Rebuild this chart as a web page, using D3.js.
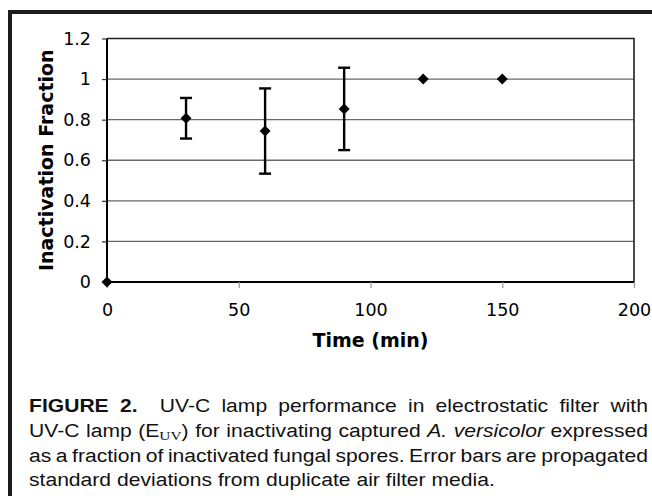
<!DOCTYPE html>
<html lang="en">
<head>
<meta charset="UTF-8">
<title>Figure 2</title>
<script src="https://d3js.org/d3.v7.min.js"></script>
<style>
  body { margin: 0; background: #fff; }
  svg { display: block; }
</style>
</head>
<body>
<div id="my_dataviz"></div>
<script>

    // data
    const times = [0, 30, 60, 90, 120, 150];
    const fractions = [0, 0.807, 0.744, 0.853, 1, 1];
    const errors = [0, 0.100, 0.210, 0.203, 0, 0];
    const xTicks = [0, 50, 100, 150, 200];
    const yTicks = [0, 0.2, 0.4, 0.6, 0.8, 1, 1.2];

    const caption = [
      "<b>FIGURE</b> <b>2.</b>  UV-C lamp performance in electrostatic filter with",
      "UV-C lamp (E<sub>UV</sub>) for inactivating captured <i>A.</i> <i>versicolor</i> expressed",
      "as a fraction of inactivated fungal spores. Error bars are propagated",
      "standard deviations from duplicate air filter media."
    ];

    const W = 652, H = 496;
    const plot = {left: 107, right: 634, top: 38.5, bottom: 282};
    const axisFont = "DejaVu Sans, Verdana, sans-serif";

    const svg = d3.select("#my_dataviz")
      .append("svg")
        .attr("width", W)
        .attr("height", H);

    // frame bars top and left
    svg.append("rect").attr("x", 8).attr("y", 10).attr("width", W - 8).attr("height", 4).attr("fill", "#1c1c1c");
    svg.append("rect").attr("x", 8).attr("y", 10).attr("width", 4).attr("height", H - 10).attr("fill", "#1c1c1c");

    const x = d3.scaleLinear().domain([0, 200]).range([plot.left, plot.right]);
    const y = d3.scaleLinear().domain([0, 1.2]).range([plot.bottom, plot.top]);

    // gridlines
    svg.append("g")
      .selectAll("line")
      .data(yTicks.filter(d => d > 0 && d < 1.2))
      .join("line")
        .attr("x1", plot.left).attr("x2", plot.right)
        .attr("y1", d => y(d)).attr("y2", d => y(d))
        .attr("stroke", "#6a6a6a")
        .attr("stroke-width", 1.3);

    // plot box: top and right thinner
    svg.append("path")
      .attr("d", `M${plot.left},${plot.top}H${plot.right}V${plot.bottom}`)
      .attr("fill", "none")
      .attr("stroke", "#222")
      .attr("stroke-width", 1.6);

    // y axis
    const yAxis = svg.append("g")
      .attr("transform", `translate(${plot.left},0)`)
      .call(d3.axisLeft(y).tickValues(yTicks).tickFormat(d => String(d)).tickSize(5).tickPadding(11));
    yAxis.select(".domain").attr("stroke", "#000").attr("stroke-width", 2).attr("d", `M0,${plot.top}V${plot.bottom}`);
    yAxis.selectAll(".tick line").attr("stroke", "#333").attr("stroke-width", 1.2);
    yAxis.selectAll(".tick text")
      .attr("font-family", axisFont)
      .attr("font-size", 17.5)
      .attr("fill", "#000");

    // x axis
    const xAxis = svg.append("g")
      .attr("transform", `translate(0,${plot.bottom})`)
      .call(d3.axisBottom(x).tickValues(xTicks).tickFormat(d => String(d)).tickSize(6).tickPadding(16));
    xAxis.select(".domain").attr("stroke", "#000").attr("stroke-width", 2).attr("d", `M${plot.left},0H${plot.right}`);
    xAxis.selectAll(".tick line").attr("stroke", "#999").attr("stroke-width", 1.2);
    xAxis.selectAll(".tick text")
      .attr("font-family", axisFont)
      .attr("font-size", 17.5)
      .attr("fill", "#000");

    // axis titles
    svg.append("text")
      .attr("x", (plot.left + plot.right) / 2)
      .attr("y", 347)
      .attr("text-anchor", "middle")
      .attr("font-family", axisFont)
      .attr("font-weight", "bold")
      .attr("font-size", 19)
      .text("Time (min)");

    svg.append("text")
      .attr("transform", `translate(53,${(plot.top + plot.bottom) / 2}) rotate(-90)`)
      .attr("text-anchor", "middle")
      .attr("font-family", axisFont)
      .attr("font-weight", "bold")
      .attr("font-size", 19)
      .text("Inactivation Fraction");

    // error bars
    const pts = times.map((t, i) => ({t: t, v: fractions[i], e: errors[i]}));
    const eb = svg.append("g")
      .selectAll("g")
      .data(pts.filter(d => d.e > 0))
      .join("g")
        .attr("stroke", "#000")
        .attr("stroke-width", 2.4);
    eb.append("line")
      .attr("x1", d => x(d.t)).attr("x2", d => x(d.t))
      .attr("y1", d => y(d.v - d.e)).attr("y2", d => y(d.v + d.e));
    eb.append("line")
      .attr("x1", d => x(d.t) - 6).attr("x2", d => x(d.t) + 6)
      .attr("y1", d => y(d.v + d.e)).attr("y2", d => y(d.v + d.e));
    eb.append("line")
      .attr("x1", d => x(d.t) - 6).attr("x2", d => x(d.t) + 6)
      .attr("y1", d => y(d.v - d.e)).attr("y2", d => y(d.v - d.e));

    // diamonds
    svg.append("g")
      .selectAll("path")
      .data(pts)
      .join("path")
        .attr("d", d3.symbol(d3.symbolSquare, 60))
        .attr("transform", d => `translate(${x(d.t)},${y(d.v)}) rotate(45)`)
        .attr("fill", "#000");

    // caption, justified by hand
    const capLeft = 29, capRight = 648, capTop = 412, capStep = 24.8;
    const capFont = 18.5;

    function fillWord(textSel, word) {
      const re = /<(b|i|sub)>(.*?)<\/\1>|([^<]+)/g;
      let m, shifted = false;
      while ((m = re.exec(word)) !== null) {
        const ts = textSel.append("tspan");
        if (m[3] !== undefined) {
          ts.text(m[3]);
          if (shifted) { ts.attr("dy", -3.5); shifted = false; }
        } else {
          ts.text(m[2]);
          if (m[1] === "b") ts.attr("font-weight", "bold");
          if (m[1] === "i") ts.attr("font-style", "italic");
          if (m[1] === "sub") {
            ts.attr("font-family", "Liberation Serif, Times New Roman, serif")
              .attr("font-size", 13.5)
              .attr("dy", 3.5);
            shifted = true;
          }
        }
      }
    }

    // build word nodes for every line first, then pick a common horizontal scale
    const lines = caption.map((line, li) => {
      const g = svg.append("g")
        .attr("font-family", "Liberation Sans, Arial, Helvetica, sans-serif")
        .attr("font-size", capFont)
        .attr("fill", "#111");
      const parts = line.split(" ");
      const words = [], gaps = [];
      let pending = 0;
      parts.forEach(p => {
        if (p === "") { pending += 1; return; }
        if (words.length) gaps.push(1 + pending);
        pending = 0;
        words.push(p);
      });
      const nodes = words.map(w => {
        const t = g.append("text").attr("x", 0).attr("y", 0);
        fillWord(t, w);
        return t;
      });
      const widths = nodes.map(t => t.node().getComputedTextLength());
      return {g, nodes, widths, gaps, li};
    });

    // the third line is set tight: about 4.5px per gap
    const l3 = lines[2];
    const sx = (capRight - capLeft - 4.5 * d3.sum(l3.gaps)) / d3.sum(l3.widths);
    const capWidth = (capRight - capLeft) / sx;
    const spaceW = capFont * 0.278;

    lines.forEach(L => {
      L.g.attr("transform", `translate(${capLeft},${capTop + L.li * capStep}) scale(${sx},1)`);
      const last = L.li === lines.length - 1;
      const unit = last ? spaceW : Math.max(2, (capWidth - d3.sum(L.widths)) / d3.sum(L.gaps));
      let cx = 0;
      L.nodes.forEach((t, i) => {
        t.attr("x", cx);
        cx += L.widths[i] + (i < L.gaps.length ? L.gaps[i] * unit : 0);
      });
    });

</script>
</body>
</html>
